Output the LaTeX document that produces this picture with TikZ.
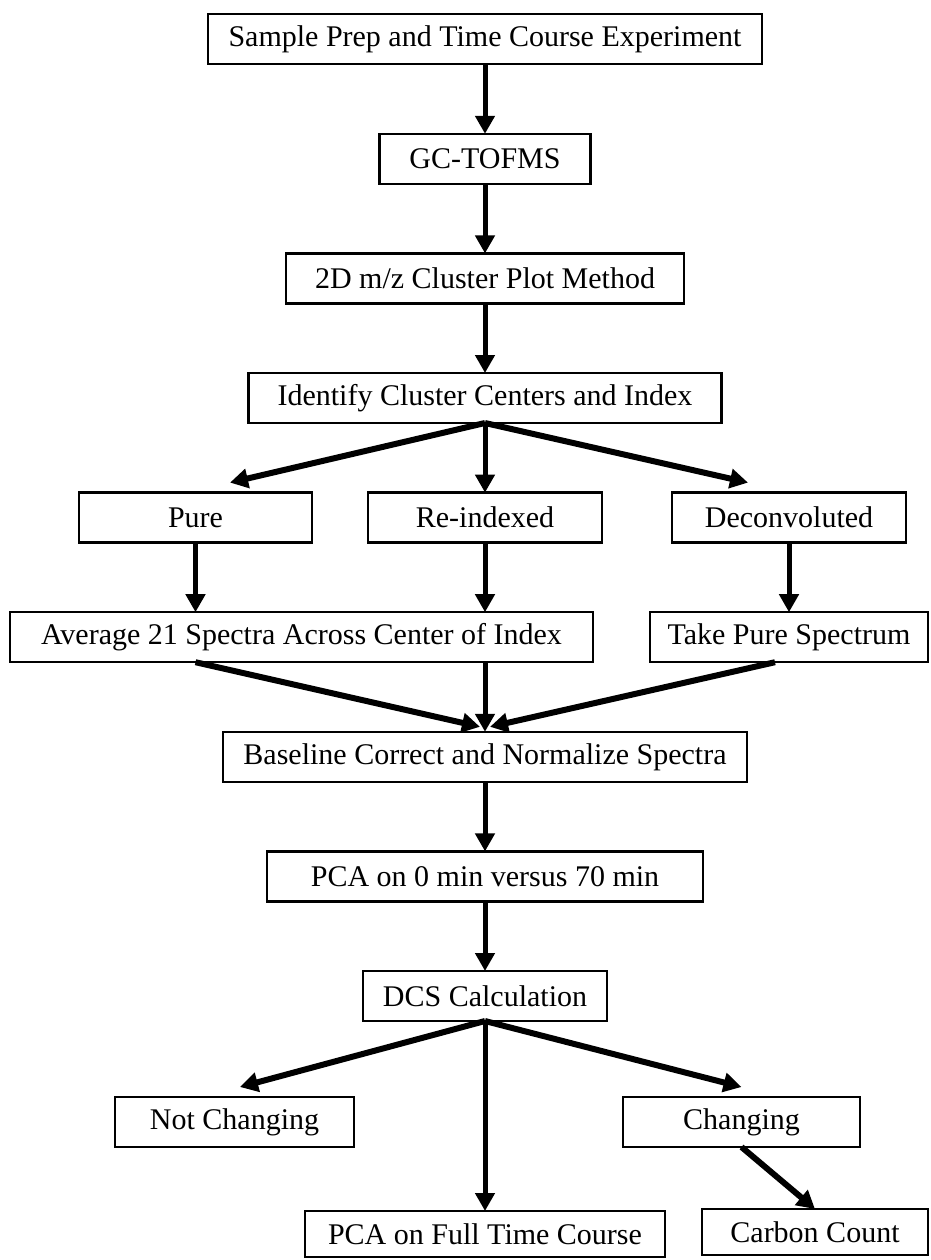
\documentclass[tikz,border=0pt]{standalone}
\usepackage{fontspec}
\setmainfont{Liberation Serif}
\usetikzlibrary{arrows.meta,positioning}
\begin{document}
\begin{tikzpicture}[node distance=34.8pt,>={Triangle[width=9.5pt,length=9pt]},
box/.style={draw,line width=1.2pt,align=center,minimum height=25pt,inner sep=0pt,outer sep=0pt,font=\fontsize{15pt}{18pt}\selectfont},
link/.style={->,line width=2.5pt},
slant/.style={->,line width=3pt}]
\useasboundingbox (0,0) rectangle (465.5pt,-630pt);
\node[box,minimum width=277pt] (prep) at (242.5pt,-19.6pt) {Sample Prep and Time Course Experiment};
\node[box,minimum width=105.5pt,below=of prep] (gc) {GC-TOFMS};
\node[box,minimum width=199pt,below=of gc] (clus) {2D m/z Cluster Plot Method};
\node[box,minimum width=236.5pt,below=of clus] (ident) {Identify Cluster Centers and Index};
\node[box,minimum width=116.5pt,below=of ident,xshift=-144.75pt] (pure) {Pure};
\node[box,minimum width=117pt,below=of ident] (reidx) {Re-indexed};
\node[box,minimum width=117pt,below=of ident,xshift=152pt] (deconv) {Deconvoluted};
\node[box,minimum width=291.5pt,below=of pure,xshift=53pt] (avg) {Average 21 Spectra Across Center of Index};
\node[box,minimum width=139pt,below=of deconv] (take) {Take Pure Spectrum};
\node[box,minimum width=262pt,below=of avg,xshift=91.75pt] (base) {Baseline Correct and Normalize Spectra};
\node[box,minimum width=218pt,below=of base] (pca0) {PCA on 0 min versus 70 min};
\node[box,minimum width=122pt,below=of pca0] (dcs) {DCS Calculation};
\node[box,minimum width=119.5pt,below=38pt of dcs,xshift=-125.25pt] (notch) {Not Changing};
\node[box,minimum width=118.5pt,below=38pt of dcs,xshift=128.25pt] (chg) {Changing};
\node[box,minimum width=180pt,minimum height=23pt,below=95pt of dcs] (pcafull) {PCA on Full Time Course};
\node[box,minimum width=113pt,minimum height=23pt,below=31pt of chg,xshift=36.75pt] (carbon) {Carbon Count};
\draw[link] (prep) -- (gc);
\draw[link] (gc) -- (clus);
\draw[link] (clus) -- (ident);
\draw[slant] (ident.south) -- ([xshift=17.25pt,yshift=5pt]pure.north);
\draw[link] (ident) -- (reidx);
\draw[slant] (ident.south) -- ([xshift=-20.5pt,yshift=5pt]deconv.north);
\draw[link] (pure) -- (pure |- avg.north);
\draw[link] (reidx) -- (reidx |- avg.north);
\draw[link] (deconv) -- (take);
\draw[slant] (pure |- avg.south) -- ([xshift=-2.5pt,yshift=2.5pt]base.north);
\draw[link] (reidx |- avg.south) -- (base);
\draw[slant] ([xshift=-7pt]take.south) -- ([xshift=2.5pt,yshift=2.5pt]base.north);
\draw[link] (base) -- (pca0);
\draw[link] (pca0) -- (dcs);
\draw[slant] (dcs.south) -- ([xshift=2.75pt,yshift=5pt]notch.north);
\draw[link] (dcs) -- (pcafull);
\draw[slant] (dcs.south) -- ([yshift=5pt]chg.north);
\draw[slant] (chg.south) -- (carbon.north);
\end{tikzpicture}
\end{document}
